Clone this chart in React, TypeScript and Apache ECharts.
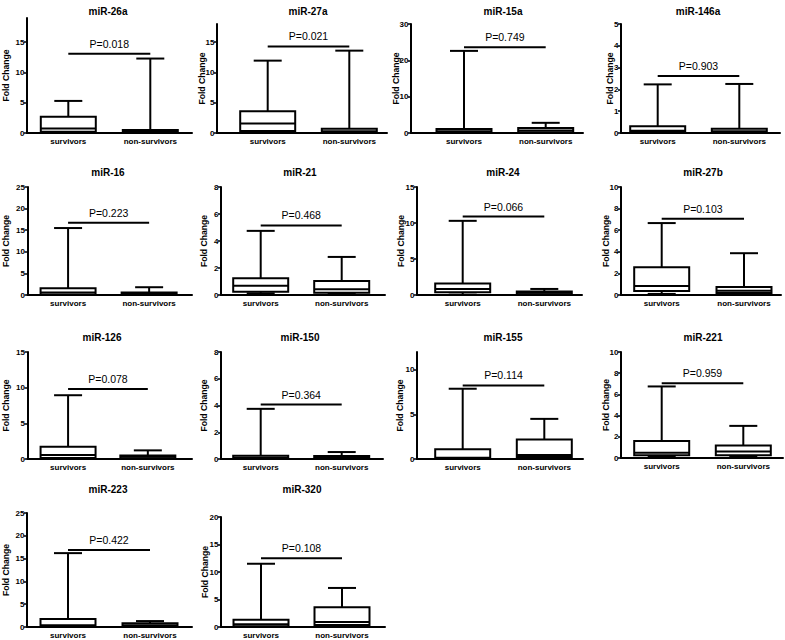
import React, { useEffect, useRef } from "react";
import * as echarts from "echarts";

// ---------------- DATA ----------------
const categories = ["survivors", "non-survivors"];
const mirnaNames = [
  "miR-26a", "miR-27a", "miR-15a", "miR-146a",
  "miR-16", "miR-21", "miR-24", "miR-27b",
  "miR-126", "miR-150", "miR-155", "miR-221",
  "miR-223", "miR-320",
];
const pLabels = [
  "P=0.018", "P=0.021", "P=0.749", "P=0.903",
  "P=0.223", "P=0.468", "P=0.066", "P=0.103",
  "P=0.078", "P=0.364", "P=0.114", "P=0.959",
  "P=0.422", "P=0.108",
];
// height of the comparison bar (in Fold Change units)
const sigBarLevel = [13.1, 14.3, 23.6, 2.61, 16.7, 5.15, 10.9, 7.06, 9.83, 4.07, 8.25, 7.06, 16.9, 12.5];
// y axis range and tick step
const yAxisMax = [19, 18, 30, 5, 25, 8, 15, 10, 15, 8, 12, 10, 25, 20];
const yAxisStep = [5, 5, 10, 1, 5, 2, 5, 2, 5, 2, 5, 2, 5, 5];
// [min, Q1, median, Q3, max]
const survivorsStats = [
  [0.05, 0.2, 0.75, 2.7, 5.3],
  [0.05, 0.35, 1.55, 3.6, 11.95],
  [0, 0.1, 0.5, 1.1, 22.6],
  [0, 0.05, 0.1, 0.31, 2.23],
  [0, 0.1, 0.6, 1.55, 15.5],
  [0.12, 0.25, 0.69, 1.24, 4.75],
  [0.05, 0.37, 0.84, 1.58, 10.3],
  [0.1, 0.37, 0.84, 2.57, 6.66],
  [0, 0.15, 0.56, 1.72, 8.94],
  [0, 0.03, 0.1, 0.25, 3.75],
  [0, 0.05, 0.15, 1.08, 7.88],
  [0.1, 0.25, 0.5, 1.61, 6.75],
  [0, 0.1, 0.4, 1.75, 16.2],
  [0, 0.15, 0.5, 1.3, 11.5],
];
const nonSurvivorsStats = [
  [0, 0.05, 0.2, 0.5, 12.3],
  [0, 0.1, 0.3, 0.7, 13.6],
  [0.05, 0.2, 0.7, 1.4, 2.8],
  [0, 0.03, 0.08, 0.2, 2.25],
  [0, 0.08, 0.25, 0.6, 1.8],
  [0.08, 0.17, 0.42, 1.04, 2.82],
  [0.05, 0.12, 0.3, 0.47, 0.84],
  [0.05, 0.19, 0.4, 0.74, 3.87],
  [0, 0.1, 0.3, 0.5, 1.21],
  [0, 0.03, 0.1, 0.22, 0.52],
  [0.05, 0.22, 0.45, 2.19, 4.5],
  [0.1, 0.25, 0.62, 1.18, 3.03],
  [0, 0.1, 0.4, 0.8, 1.3],
  [0.1, 0.35, 0.9, 3.6, 7.1],
];

// ---------------- LAYOUT ----------------
const plotLeft = [27, 217, 411, 621, 27, 221, 417, 621, 27, 221, 417, 621, 27, 221];
const plotRight = [192, 387, 583, 780, 192, 385, 582, 781, 192, 383, 583, 783, 192, 385];
const catCenter0 = [68.3, 267.7, 464, 657.7, 67.7, 260.7, 462.7, 661.7, 67.7, 260.7, 462.7, 661.7, 68, 261];
const catCenter1 = [150.3, 349.3, 545.7, 739.3, 149, 341.7, 544.3, 744, 147.7, 341.7, 544.3, 743.3, 150, 342];
const plotTop = [18, 24, 24, 24, 187, 187, 187, 187, 352, 352, 352, 352, 513, 517];
const plotBottom = [133, 133, 133, 133, 295, 295, 295, 295, 459, 459, 459, 458, 627, 627];
const titleX = [108, 308, 503, 698, 108, 300, 503, 703, 102, 300, 503, 703, 108, 302];
const titleY = [11, 11, 11, 11, 172, 172, 172, 172, 337, 337, 337, 337, 489, 489];
const yNameGap = [16.5, 10.5, 10.5, 7, 17.5, 12.5, 12, 10.5, 17.5, 12.5, 12.5, 10.5, 16.5, 11.5];

const FONT = '"Liberation Sans", Arial, Helvetica, sans-serif';
const NARROW = '"Liberation Sans Narrow", "Arial Narrow", "Liberation Sans", Arial, sans-serif';
const BOX_W = 55;
const CAP_W = 28;

function buildOption() {
  const grid: any[] = [];
  const xAxis: any[] = [];
  const yAxis: any[] = [];
  const series: any[] = [];
  const graphic: any[] = [];

  mirnaNames.forEach((name, i) => {
    const d = catCenter1[i] - catCenter0[i];
    grid.push({
      left: plotLeft[i],
      top: plotTop[i],
      width: plotRight[i] - plotLeft[i],
      height: plotBottom[i] - plotTop[i],
      containLabel: false,
    });
    xAxis.push({
      type: "value",
      gridIndex: i,
      min: -(catCenter0[i] - plotLeft[i]) / d,
      max: 1 + (plotRight[i] - catCenter1[i]) / d,
      splitLine: { show: false },
      axisTick: { show: false },
      axisLine: { show: true, onZero: false, lineStyle: { color: "#000", width: 2 } },
      axisLabel: {
        customValues: [0, 1],
        formatter: (v: number) => categories[Math.round(v)] ?? "",
        color: "#000",
        fontFamily: FONT,
        fontWeight: "bold",
        fontSize: 8,
        margin: 4,
      },
    });
    const ticks: number[] = [];
    for (let v = 0; v <= yAxisMax[i] + 1e-9; v += yAxisStep[i]) ticks.push(v);
    yAxis.push({
      type: "value",
      gridIndex: i,
      min: 0,
      max: yAxisMax[i],
      interval: yAxisStep[i],
      name: "Fold Change",
      nameLocation: "middle",
      nameRotate: 90,
      nameGap: yNameGap[i],
      nameMoveOverlap: false,
      nameTextStyle: { color: "#000", fontFamily: FONT, fontWeight: "bold", fontSize: 8.6 },
      splitLine: { show: false },
      axisLine: { show: true, onZero: false, lineStyle: { color: "#000", width: 2 } },
      axisTick: { show: true, length: 3, customValues: ticks, lineStyle: { color: "#000", width: 1.5 } },
      axisLabel: {
        customValues: ticks,
        color: "#000",
        fontFamily: NARROW,
        fontWeight: "bold",
        fontSize: 8,
        margin: 2.5,
      },
    });

    const boxData = [
      [0, ...survivorsStats[i]],
      [1, ...nonSurvivorsStats[i]],
    ];
    series.push({
      type: "custom",
      xAxisIndex: i,
      yAxisIndex: i,
      clip: false,
      silent: true,
      encode: { x: 0, y: [1, 2, 3, 4, 5] },
      data: boxData,
      renderItem: (params: any, api: any) => {
        const x = api.value(0);
        const lo = api.coord([x, api.value(1)]);
        const q1 = api.coord([x, api.value(2)]);
        const md = api.coord([x, api.value(3)]);
        const q3 = api.coord([x, api.value(4)]);
        const hi = api.coord([x, api.value(5)]);
        const cx = q1[0];
        const hb = BOX_W / 2;
        const hc = CAP_W / 2;
        const st = { stroke: "#000", lineWidth: 2, fill: null };
        return {
          type: "group",
          children: [
            { type: "line", shape: { x1: cx, y1: q3[1], x2: cx, y2: hi[1] }, style: st },
            { type: "line", shape: { x1: cx - hc, y1: hi[1], x2: cx + hc, y2: hi[1] }, style: st },
            { type: "line", shape: { x1: cx, y1: q1[1], x2: cx, y2: lo[1] }, style: st },
            { type: "line", shape: { x1: cx - hc, y1: lo[1], x2: cx + hc, y2: lo[1] }, style: st },
            {
              type: "rect",
              shape: { x: cx - hb, y: q3[1], width: BOX_W, height: Math.max(q1[1] - q3[1], 0.5) },
              style: { fill: "#fff", stroke: "#000", lineWidth: 2 },
            },
            { type: "line", shape: { x1: cx - hb, y1: md[1], x2: cx + hb, y2: md[1] }, style: st },
          ],
        };
      },
    });

    series.push({
      type: "custom",
      xAxisIndex: i,
      yAxisIndex: i,
      clip: false,
      silent: true,
      encode: { x: [0, 2], y: 1 },
      data: [[0, sigBarLevel[i], 1]],
      renderItem: (params: any, api: any) => {
        const a = api.coord([api.value(0), api.value(1)]);
        const b = api.coord([api.value(2), api.value(1)]);
        return {
          type: "group",
          children: [
            {
              type: "line",
              shape: { x1: a[0], y1: a[1], x2: b[0], y2: b[1] },
              style: { stroke: "#000", lineWidth: 2 },
            },
            {
              type: "text",
              x: (a[0] + b[0]) / 2,
              y: a[1] - 10,
              style: {
                text: pLabels[i],
                fill: "#000",
                font: `10.5px ${FONT}`,
                align: "center",
                verticalAlign: "middle",
              },
            },
          ],
        };
      },
    });

    graphic.push({
      type: "text",
      x: titleX[i],
      y: titleY[i],
      style: {
        text: name,
        fill: "#000",
        font: `bold 10px ${FONT}`,
        align: "center",
        verticalAlign: "middle",
      },
    });
  });

  return {
    animation: false,
    backgroundColor: "#fff",
    grid,
    xAxis,
    yAxis,
    series,
    graphic,
  };
}

export default function App() {
  const ref = useRef<HTMLDivElement>(null);
  useEffect(() => {
    if (!ref.current) return;
    const chart = echarts.init(ref.current, null, { renderer: "svg" });
    chart.setOption(buildOption() as any);
    return () => chart.dispose();
  }, []);
  return (
    <div
      ref={ref}
      style={{ position: "absolute", left: 0, top: 0, width: 785, height: 640, background: "#fff" }}
    />
  );
}
